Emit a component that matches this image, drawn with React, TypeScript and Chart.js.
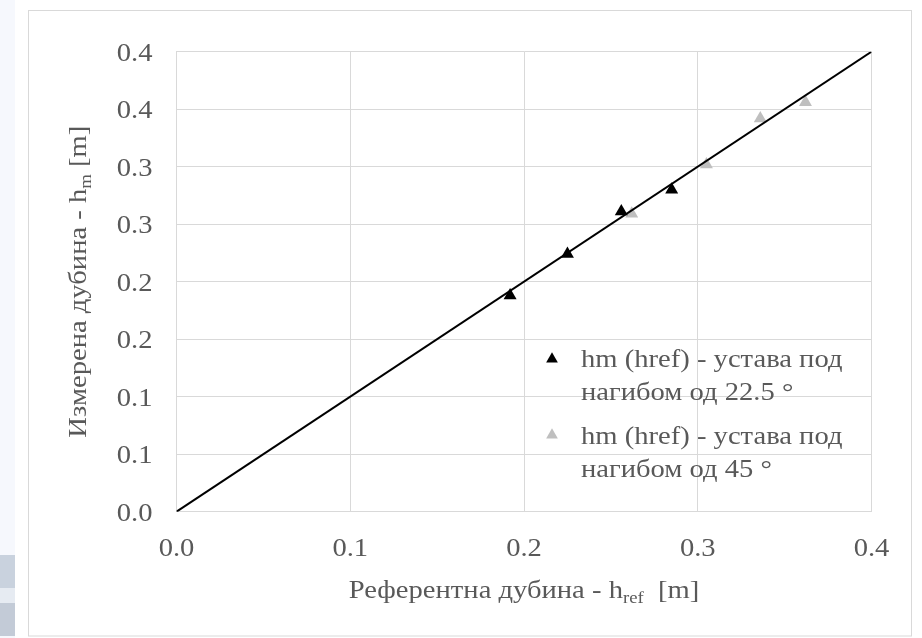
import React, { useEffect, useRef } from 'react';
import { Chart, registerables } from 'chart.js';

Chart.register(...registerables);

// ---------- data ----------
const href225 = [0.192, 0.225, 0.256, 0.285];
const hm225 = [0.188, 0.224, 0.261, 0.28];
const href45 = [0.262, 0.305, 0.336, 0.362];
const hm45 = [0.259, 0.302, 0.342, 0.356];
const lineX = [0, 0.4];
const lineY = [0, 0.4];
const xTickLabels = ['0.0', '0.1', '0.2', '0.3', '0.4'];
const yTickLabels = ['0.0', '0.1', '0.1', '0.2', '0.2', '0.3', '0.3', '0.4', '0.4'];
const legend225 = ['hm (href) - устава под', 'нагибом од 22.5 °'];
const legend45 = ['hm (href) - устава под', 'нагибом од 45 °'];
const xTitleParts: [string, boolean][] = [['Референтна дубина - h', false], ['ref', true], ['  [m]', false]];
const yTitleParts: [string, boolean][] = [['Измерена дубина - h', false], ['m', true], [' [m]', false]];

// ---------- style ----------
const W = 922;
const H = 638;
const FAMILY = '"Liberation Serif", "Times New Roman", serif';
const TEXT = '#595959';
const GRID = '#d9d9d9';
const BLACK = '#000000';
const GRAY = '#bfbfbf';
const SX = 1.1;
const FS = 26;
const SUB = 17;
const MARK_R = 7.5;

function setFont(ctx: CanvasRenderingContext2D, px: number) {
  ctx.font = `${px}px ${FAMILY}`;
}

function textW(ctx: CanvasRenderingContext2D, s: string, px: number) {
  setFont(ctx, px);
  return ctx.measureText(s).width * SX;
}

function drawText(ctx: CanvasRenderingContext2D, s: string, x: number, y: number, px: number, align: 'left' | 'center' | 'right') {
  const w = textW(ctx, s, px);
  const x0 = align === 'center' ? x - w / 2 : align === 'right' ? x - w : x;
  ctx.save();
  setFont(ctx, px);
  ctx.textAlign = 'left';
  ctx.textBaseline = 'alphabetic';
  ctx.fillStyle = TEXT;
  ctx.translate(x0, y);
  ctx.scale(SX, 1);
  ctx.fillText(s, 0, 0);
  ctx.restore();
  return w;
}

function drawRich(ctx: CanvasRenderingContext2D, parts: [string, boolean][], cx: number, base: number) {
  let total = 0;
  parts.forEach(([s, sub]) => { total += textW(ctx, s, sub ? SUB : FS); });
  let x = cx - total / 2;
  parts.forEach(([s, sub]) => {
    x += drawText(ctx, s, x, sub ? base + 5 : base, sub ? SUB : FS, 'left');
  });
}

function triangle(ctx: CanvasRenderingContext2D, x: number, y: number, r: number, color: string) {
  ctx.save();
  ctx.fillStyle = color;
  ctx.beginPath();
  for (let k = 0; k < 3; k++) {
    const a = -Math.PI / 2 + (k * 2 * Math.PI) / 3;
    const px = x + Math.cos(a) * r;
    const py = y + Math.sin(a) * r;
    if (k === 0) ctx.moveTo(px, py); else ctx.lineTo(px, py);
  }
  ctx.closePath();
  ctx.fill();
  ctx.restore();
}

const backgroundPlugin = {
  id: 'bgFrame',
  beforeDraw(chart: any) {
    const ctx: CanvasRenderingContext2D = chart.ctx;
    ctx.save();
    ctx.fillStyle = '#ffffff';
    ctx.fillRect(0, 0, W, H);
    ctx.fillStyle = '#f6f8fd';
    ctx.fillRect(0, 0, 15, H);
    ctx.fillStyle = '#c9d2de';
    ctx.fillRect(0, 555, 15, 33);
    ctx.fillStyle = '#e6ebf2';
    ctx.fillRect(0, 588, 15, 15);
    ctx.fillStyle = '#c3cbd7';
    ctx.fillRect(0, 603, 15, 33);
    ctx.strokeStyle = GRID;
    ctx.lineWidth = 1;
    ctx.strokeRect(28.5, 10.5, 883, 625.5);
    ctx.restore();
  },
};

const textPlugin = {
  id: 'texts',
  afterDraw(chart: any) {
    const ctx: CanvasRenderingContext2D = chart.ctx;
    const xs = chart.scales.x;
    const ys = chart.scales.y;
    const area = chart.chartArea;
    // tick labels
    xs.ticks.forEach((t: any, i: number) => {
      drawText(ctx, xTickLabels[i] ?? '', xs.getPixelForValue(t.value), 556, FS, 'center');
    });
    ys.ticks.forEach((t: any, i: number) => {
      drawText(ctx, yTickLabels[i] ?? '', area.left - 24, ys.getPixelForValue(t.value) + 9, FS, 'right');
    });
    // axis titles
    drawRich(ctx, xTitleParts, (area.left + area.right) / 2, 598);
    ctx.save();
    ctx.translate(86, (area.top + area.bottom) / 2);
    ctx.rotate(-Math.PI / 2);
    drawRich(ctx, yTitleParts, 0, 0);
    ctx.restore();
    // legend
    triangle(ctx, 552, 359, MARK_R * 0.9, BLACK);
    drawText(ctx, legend225[0], 581, 367, FS, 'left');
    drawText(ctx, legend225[1], 581, 400, FS, 'left');
    triangle(ctx, 552, 435, MARK_R * 0.9, GRAY);
    drawText(ctx, legend45[0], 581, 444, FS, 'left');
    drawText(ctx, legend45[1], 581, 477, FS, 'left');
  },
};

export default function App() {
  const ref = useRef<HTMLCanvasElement | null>(null);
  useEffect(() => {
    if (!ref.current) return;
    const chart = new Chart(ref.current, {
      type: 'scatter',
      data: {
        datasets: [
          {
            label: 'y = x',
            data: lineX.map((x, i) => ({ x, y: lineY[i] })),
            showLine: true,
            borderColor: BLACK,
            borderWidth: 2,
            pointRadius: 0,
            fill: false,
          },
          {
            label: legend225.join(' '),
            data: href225.map((x, i) => ({ x, y: hm225[i] })),
            pointStyle: 'triangle',
            pointRadius: MARK_R,
            backgroundColor: BLACK,
            borderColor: BLACK,
            borderWidth: 0,
          },
          {
            label: legend45.join(' '),
            data: href45.map((x, i) => ({ x, y: hm45[i] })),
            pointStyle: 'triangle',
            pointRadius: MARK_R,
            backgroundColor: GRAY,
            borderColor: GRAY,
            borderWidth: 0,
          },
        ],
      },
      options: {
        animation: false,
        responsive: false,
        devicePixelRatio: 1,
        layout: { padding: { left: 76.5, right: 50.5, top: 51.7, bottom: 66.3 } },
        plugins: { legend: { display: false }, tooltip: { enabled: false } },
        scales: {
          x: {
            type: 'linear',
            min: 0,
            max: 0.4,
            ticks: { stepSize: 0.1, display: false },
            grid: { color: GRID, lineWidth: 1, drawTicks: false },
            border: { color: GRID },
            afterFit: (s: any) => { s.height = 60; },
          },
          y: {
            type: 'linear',
            min: 0,
            max: 0.4,
            ticks: { stepSize: 0.05, display: false },
            grid: { color: GRID, lineWidth: 1, drawTicks: false },
            border: { color: GRID },
            afterFit: (s: any) => { s.width = 100; },
          },
        },
      } as any,
      plugins: [backgroundPlugin, textPlugin],
    });
    return () => chart.destroy();
  }, []);
  return (
    <div style={{ position: 'absolute', left: 0, top: 0, width: W, height: H }}>
      <canvas ref={ref} width={W} height={H} style={{ display: 'block' }} />
    </div>
  );
}
